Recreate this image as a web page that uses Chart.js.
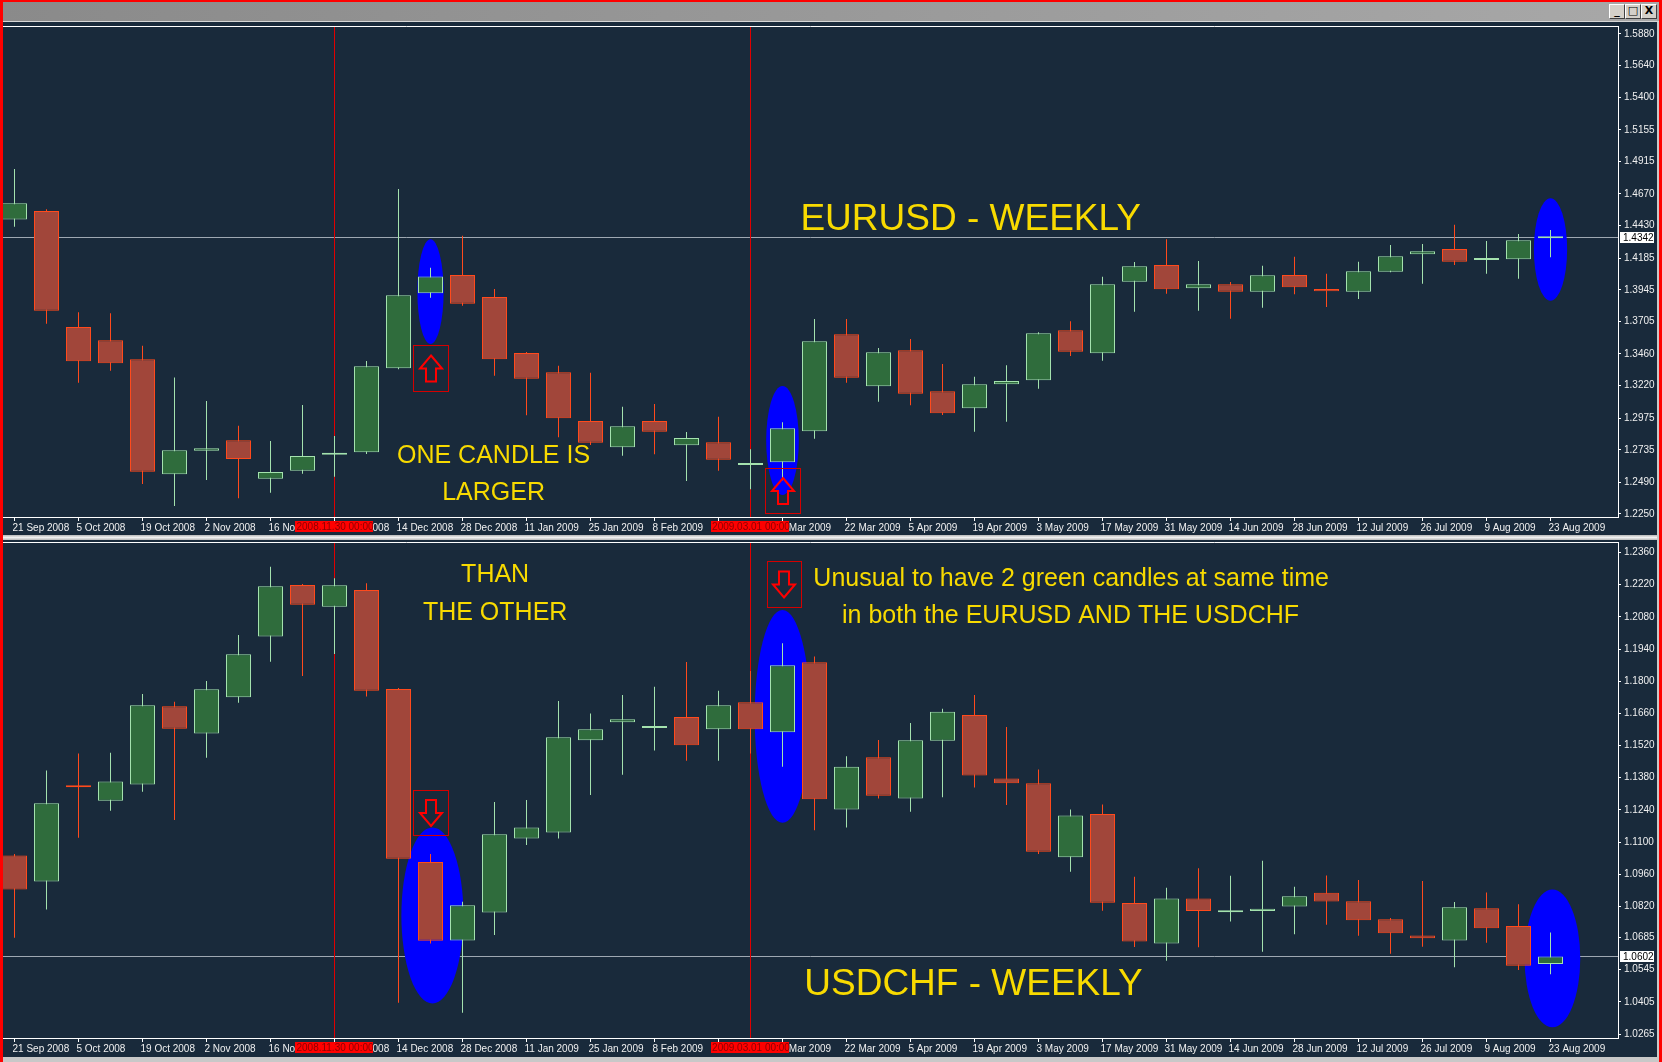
<!DOCTYPE html>
<html>
<head>
<meta charset="utf-8">
<title>EURUSD / USDCHF weekly</title>
<script src="https://cdn.jsdelivr.net/npm/chart.js@4.4.1/dist/chart.umd.min.js"></script>
<style>
  html, body { margin: 0; padding: 0; background: #192a3b; }
  #frame { position: relative; width: 1662px; height: 1062px; overflow: hidden; background: #192a3b; }
  .abs { position: absolute; }
  #titlebar { left: 0; top: 0; width: 1662px; height: 21px; background: linear-gradient(to right, #8a8a8a, #a8a8a8); }
  #titleline { left: 0; top: 21px; width: 1662px; height: 1px; background: #d6d6d6; }
  .wbtn { top: 4px; width: 14px; height: 13px; background: #d4d0c8; border: 1px solid #404040;
          border-top-color: #fff; border-left-color: #fff; font: bold 11px "DejaVu Sans", sans-serif;
          color: #000; text-align: center; line-height: 12px; }
  #sep { left: 0; top: 535px; width: 1662px; height: 5px; background: linear-gradient(#b8b8b8, #f0f0f0, #b8b8b8); }
  #bottomstrip { left: 0; top: 1057px; width: 1662px; height: 5px; background: #c8c8c8; }
  #rightstrip { left: 1657px; top: 22px; width: 2px; height: 1040px; background: #c8c8c8; }
  .red { background: #ff0000; }
  #topBox { left: 3px; top: 23px; width: 1654px; height: 512px; }
  #botBox { left: 3px; top: 539px; width: 1654px; height: 518px; }
</style>
</head>
<body>
<div id="frame">
  <div id="titlebar" class="abs"></div>
  <div id="titleline" class="abs"></div>
  <div class="abs wbtn" style="left:1609px">_</div>
  <div class="abs wbtn" style="left:1625px">&#9633;</div>
  <div class="abs wbtn" style="left:1641px">X</div>
  <div id="topBox" class="abs"><canvas id="topChart"></canvas></div>
  <div id="sep" class="abs"></div>
  <div id="botBox" class="abs"><canvas id="botChart"></canvas></div>
  <div id="bottomstrip" class="abs"></div>
  <div id="rightstrip" class="abs"></div>
  <div class="abs red" style="left:0;top:0;width:1662px;height:2px"></div>
  <div class="abs red" style="left:0;top:0;width:3px;height:1062px"></div>
  <div class="abs red" style="left:1659px;top:0;width:3px;height:1062px"></div>
</div>

<script>
/* Weekly candles, 21 Sep 2008 .. 23 Aug 2009 */
const weeks = ["21 Sep 2008","28 Sep 2008","5 Oct 2008","12 Oct 2008","19 Oct 2008","26 Oct 2008",
  "2 Nov 2008","9 Nov 2008","16 Nov 2008","23 Nov 2008","30 Nov 2008","7 Dec 2008","14 Dec 2008",
  "21 Dec 2008","28 Dec 2008","4 Jan 2009","11 Jan 2009","18 Jan 2009","25 Jan 2009","1 Feb 2009",
  "8 Feb 2009","15 Feb 2009","22 Feb 2009","1 Mar 2009","8 Mar 2009","15 Mar 2009","22 Mar 2009",
  "29 Mar 2009","5 Apr 2009","12 Apr 2009","19 Apr 2009","26 Apr 2009","3 May 2009","10 May 2009",
  "17 May 2009","24 May 2009","31 May 2009","7 Jun 2009","14 Jun 2009","21 Jun 2009","28 Jun 2009",
  "5 Jul 2009","12 Jul 2009","19 Jul 2009","26 Jul 2009","2 Aug 2009","9 Aug 2009","16 Aug 2009",
  "23 Aug 2009"];

const eurusdOpen = [1.4478,1.4541,1.3664,1.3564,1.3420,1.2550,1.2729,1.2807,1.2517,1.2578,1.2698,1.2717,1.3352,
  1.3919,1.4057,1.3891,1.3468,1.3322,1.2953,1.2754,1.2953,1.2770,1.2792,1.2620,1.2641,1.2875,1.3609,1.3216,
  1.3488,1.3178,1.3049,1.3232,1.3261,1.3639,1.3465,1.4007,1.4133,1.3957,1.3987,1.3931,1.4057,1.3952,1.3931,
  1.4082,1.4214,1.4254,1.4170,1.4176,1.4335];
const eurusdHigh = [1.4859,1.4554,1.3775,1.3768,1.3523,1.3283,1.3105,1.2918,1.2802,1.3074,1.2840,1.3407,1.4708,
  1.4113,1.4355,1.3952,1.3475,1.3372,1.3319,1.3062,1.3082,1.2870,1.2986,1.2739,1.2943,1.3725,1.3725,1.3505,
  1.3573,1.3384,1.3288,1.3375,1.3625,1.3707,1.4045,1.4156,1.4327,1.4163,1.4004,1.4128,1.4196,1.4067,1.4158,
  1.4284,1.4292,1.4438,1.4315,1.4367,1.4398];
const eurusdLow = [1.4423,1.3689,1.3243,1.3334,1.2477,1.2310,1.2507,1.2369,1.2411,1.2555,1.2532,1.2704,1.3345,
  1.3886,1.3825,1.3296,1.2996,1.2830,1.2772,1.2691,1.2701,1.2500,1.2578,1.2437,1.2505,1.2820,1.3243,1.3099,
  1.3072,1.2999,1.2872,1.2948,1.3198,1.3445,1.3409,1.3780,1.3916,1.3787,1.3727,1.3810,1.3911,1.3815,1.3876,
  1.4078,1.3992,1.4133,1.4067,1.4030,1.4191];
const eurusdClose = [1.4600,1.3788,1.3405,1.3390,1.2570,1.2732,1.2747,1.2666,1.2568,1.2689,1.2703,1.3367,1.3904,
  1.4047,1.3840,1.3420,1.3273,1.2974,1.2789,1.2913,1.2872,1.2825,1.2661,1.2626,1.2898,1.3556,1.3281,1.3473,
  1.3160,1.3011,1.3231,1.3255,1.3617,1.3477,1.3987,1.4123,1.3949,1.3987,1.3931,1.4055,1.3964,1.3934,1.4085,
  1.4199,1.4237,1.4158,1.4178,1.4320,1.4342];

const usdchfOpen = [1.1042,1.0929,1.1347,1.1280,1.1351,1.1691,1.1573,1.1730,1.1995,1.2219,1.2124,1.2197,1.1766,
  1.1013,1.0672,1.0794,1.1116,1.1142,1.1543,1.1621,1.1596,1.1644,1.1591,1.1708,1.1578,1.1882,1.1242,1.1469,
  1.1290,1.1541,1.1653,1.1377,1.1356,1.1034,1.1222,1.0835,1.0659,1.0855,1.0795,1.0800,1.0820,1.0880,1.0843,
  1.0764,1.0694,1.0672,1.0812,1.0735,1.0570];
const usdchfHigh = [1.1048,1.1411,1.1485,1.1489,1.1744,1.1711,1.1801,1.2001,1.2298,1.2223,1.2248,1.2226,1.1770,
  1.1048,1.0840,1.1274,1.1283,1.1714,1.1659,1.1740,1.1776,1.1884,1.1759,1.1844,1.1965,1.1908,1.1474,1.1544,
  1.1618,1.1680,1.1740,1.1601,1.1416,1.1242,1.1264,1.0949,1.0901,1.0986,1.0954,1.1019,1.0906,1.0955,1.0935,
  1.0770,1.0931,1.0839,1.0881,1.0830,1.0707];
const usdchfLow = [1.0684,1.0807,1.1119,1.1236,1.1319,1.1196,1.1467,1.1706,1.1885,1.1823,1.1918,1.1733,1.0401,
  1.0659,1.0357,1.0696,1.1087,1.1116,1.1305,1.1393,1.1498,1.1454,1.1454,1.1486,1.1428,1.1152,1.1164,1.1290,
  1.1232,1.1295,1.1338,1.1261,1.1048,1.0971,1.0801,1.0643,1.0584,1.0642,1.0754,1.0623,1.0699,1.0740,1.0693,
  1.0614,1.0645,1.0555,1.0662,1.0543,1.0525];
const usdchfClose = [1.0894,1.1269,1.1339,1.1364,1.1695,1.1593,1.1765,1.1917,1.2213,1.2133,1.2217,1.1759,1.1028,
  1.0671,1.0825,1.1134,1.1164,1.1556,1.1591,1.1634,1.1600,1.1521,1.1695,1.1591,1.1869,1.1286,1.1428,1.1302,
  1.1543,1.1667,1.1390,1.1356,1.1058,1.1216,1.0836,1.0668,1.0855,1.0800,1.0800,1.0810,1.0864,1.0842,1.0760,
  1.0703,1.0682,1.0816,1.0725,1.0562,1.0602];

/* price scale labels as MT4 prints them */
const eurusdTicks = ["1.5880","1.5640","1.5400","1.5155","1.4915","1.4670","1.4430","1.4185","1.3945",
  "1.3705","1.3460","1.3220","1.2975","1.2735","1.2490","1.2250"];
const usdchfTicks = ["1.2360","1.2220","1.2080","1.1940","1.1800","1.1660","1.1520","1.1380","1.1240",
  "1.1100","1.0960","1.0820","1.0685","1.0545","1.0405","1.0265"];

const eurusdLast = 1.4342;
const usdchfLast = 1.0602;

/* colours */
const BULL_FILL = '#2f6c3c';
const BULL_LINE = '#a4e2ae';
const BEAR_FILL = '#a1463a';
const BEAR_LINE = '#ff4a1c';
const GOLD = '#f8da00';
const AXIS_FONT = { family: '"Liberation Sans", Arial, sans-serif', size: 10 };
const TEXT_FONT = '"Liberation Sans", Arial, sans-serif';


/* build wick + body datasets for one instrument */
function candleSets(open, high, low, close) {
  const up = open.map((o, i) => close[i] >= o);

  const wicks = {
    data: open.map((o, i) => ({ x: i, y: [low[i], high[i]] })),
    backgroundColor: up.map(u => u ? BULL_LINE : BEAR_LINE),
    borderWidth: 0,
    barThickness: 1,
    inflateAmount: 0,
    grouped: false,
    order: 2
  };

  const bodies = {
    data: open.map((o, i) => ({ x: i, y: [o, close[i]] })),
    backgroundColor: up.map(u => u ? BULL_FILL : BEAR_FILL),
    borderColor: up.map(u => u ? BULL_LINE : BEAR_LINE),
    borderWidth: 1,
    borderSkipped: false,
    barThickness: 25,
    minBarLength: 2,
    inflateAmount: 0,
    grouped: false,
    order: 1
  };

  return [wicks, bodies];
}


/* hollow arrow inside a red frame */
function drawArrowBox(ctx, x, y, b) {
  const cx = x.getPixelForValue(b.week);
  const half = b.w / 2 * (x.getPixelForValue(1) - x.getPixelForValue(0));
  const left = Math.round(cx - half) + 0.5;
  const right = Math.round(cx + half) + 0.5;
  const top = Math.round(y.getPixelForValue(b.top)) + 0.5;
  const bottom = Math.round(y.getPixelForValue(b.bottom)) + 0.5;

  ctx.strokeStyle = '#d40000';
  ctx.lineWidth = 1;
  ctx.strokeRect(left, top, right - left, bottom - top);

  const ax = Math.round(cx);
  const mid = (top + bottom) / 2;
  const t = mid - 13, h = 13, e = mid + 13;
  ctx.strokeStyle = '#ff0000';
  ctx.lineWidth = 2;
  ctx.beginPath();
  if (b.dir === 'up') {
    ctx.moveTo(ax, t);
    ctx.lineTo(ax + 11, t + h);
    ctx.lineTo(ax + 5, t + h);
    ctx.lineTo(ax + 5, e);
    ctx.lineTo(ax - 5, e);
    ctx.lineTo(ax - 5, t + h);
    ctx.lineTo(ax - 11, t + h);
  } else {
    ctx.moveTo(ax, e);
    ctx.lineTo(ax + 11, e - h);
    ctx.lineTo(ax + 5, e - h);
    ctx.lineTo(ax + 5, t);
    ctx.lineTo(ax - 5, t);
    ctx.lineTo(ax - 5, e - h);
    ctx.lineTo(ax - 11, e - h);
  }
  ctx.closePath();
  ctx.stroke();
}


/* everything MT4 draws on top of the candles: objects, lines, tags */
const mt4Marks = {
  id: 'mt4Marks',

  beforeDatasetsDraw(chart, args, opts) {
    const { ctx, chartArea: a, scales: { x, y } } = chart;
    ctx.save();

    // white frame line along the top of the plot
    ctx.strokeStyle = '#ffffff';
    ctx.lineWidth = 1;
    ctx.beginPath();
    ctx.moveTo(a.left, a.top + 0.5);
    ctx.lineTo(a.right, a.top + 0.5);
    ctx.stroke();

    ctx.beginPath();
    ctx.rect(a.left, a.top + 1, a.right - a.left, a.bottom - a.top - 1);
    ctx.clip();

    // last price line
    const py = Math.floor(y.getPixelForValue(opts.last)) + 0.5;
    ctx.strokeStyle = '#9ea8b2';
    ctx.beginPath();
    ctx.moveTo(a.left, py);
    ctx.lineTo(a.right, py);
    ctx.stroke();

    // red vertical lines
    ctx.strokeStyle = '#e00000';
    opts.vlines.forEach(v => {
      const px = Math.floor(x.getPixelForValue(v.week)) + 0.5;
      ctx.beginPath();
      ctx.moveTo(px, a.top);
      ctx.lineTo(px, a.bottom);
      ctx.stroke();
    });

    // blue ellipses
    ctx.fillStyle = '#0000ff';
    opts.ellipses.forEach(e => {
      const cx = x.getPixelForValue(e.week);
      const cy = y.getPixelForValue(e.price);
      const rx = e.hw * (x.getPixelForValue(1) - x.getPixelForValue(0));
      const ry = Math.abs(y.getPixelForValue(e.price + e.hh) - cy);
      ctx.beginPath();
      ctx.ellipse(cx, cy, rx, ry, 0, 0, Math.PI * 2);
      ctx.fill();
    });

    ctx.restore();
  },

  afterDatasetsDraw(chart, args, opts) {
    const { ctx, scales: { x, y } } = chart;
    ctx.save();

    opts.boxes.forEach(b => drawArrowBox(ctx, x, y, b));

    ctx.fillStyle = GOLD;
    ctx.textBaseline = 'alphabetic';
    opts.texts.forEach(t => {
      ctx.font = t.size + 'px ' + TEXT_FONT;
      ctx.textAlign = t.align;
      ctx.fillText(t.text, x.getPixelForValue(t.week), y.getPixelForValue(t.price));
    });

    ctx.restore();
  },

  afterDraw(chart, args, opts) {
    const { ctx, chartArea: a, scales: { x, y } } = chart;
    ctx.save();
    ctx.font = '10px ' + TEXT_FONT;
    ctx.textBaseline = 'middle';

    // last price tag on the price scale
    const py = Math.floor(y.getPixelForValue(opts.last));
    ctx.fillStyle = '#ffffff';
    ctx.fillRect(a.right + 2, py - 5, 34, 11);
    ctx.fillStyle = '#000000';
    ctx.textAlign = 'left';
    ctx.fillText(opts.last.toFixed(4), a.right + 5, py + 1);

    // red date tags of the vertical lines
    ctx.textAlign = 'center';
    opts.vlines.forEach(v => {
      const px = Math.floor(x.getPixelForValue(v.week));
      ctx.fillStyle = '#ff0000';
      ctx.fillRect(px - 39, a.bottom + 4, 78, 11);
      ctx.fillStyle = '#8c0000';
      ctx.fillText(v.tag, px + 1, a.bottom + 10);
    });

    ctx.restore();
  }
};


/* shared chart options for a price panel */
function panelOptions(yMin, yMax, yTicks, xAxisHeight, marks) {
  return {
    responsive: true,
    maintainAspectRatio: false,
    devicePixelRatio: 1,
    animation: false,
    events: [],
    layout: { padding: { top: 3, left: 0, right: 0, bottom: 0 } },
    plugins: {
      legend: { display: false },
      tooltip: { enabled: false },
      mt4Marks: marks
    },
    scales: {
      x: {
        type: 'linear',
        min: -0.359375,
        max: 50.109375,
        offset: false,
        afterBuildTicks: (s) => {
          s.ticks = weeks.map((w, i) => ({ value: i })).filter(t => t.value % 2 === 0);
        },
        afterFit: (s) => { s.height = xAxisHeight; s.paddingLeft = 0; s.paddingRight = 0; },
        grid: { drawOnChartArea: false, offset: false, color: '#ffffff', tickLength: 4 },
        border: { display: true, color: '#ffffff', width: 1 },
        ticks: {
          autoSkip: false,
          maxRotation: 0,
          align: 'start',
          labelOffset: -2,
          padding: 1,
          color: '#f0f0f0',
          font: AXIS_FONT,
          callback: (v) => weeks[v]
        }
      },
      y: {
        type: 'linear',
        position: 'right',
        min: yMin,
        max: yMax,
        afterBuildTicks: (s) => {
          s.ticks = yTicks.map(t => ({ value: Number(t) }));
        },
        afterFit: (s) => { s.width = 39; s.paddingTop = 0; s.paddingBottom = 0; },
        grid: { drawOnChartArea: false, color: '#ffffff', tickLength: 3 },
        border: { display: true, color: '#ffffff', width: 1 },
        ticks: {
          padding: 3,
          color: '#f0f0f0',
          font: AXIS_FONT,
          callback: (v) => v.toFixed(4)
        }
      }
    }
  };
}


window.onload = function() {
  const vlines = [
    { week: 10, tag: '2008.11.30 00:00' },
    { week: 23, tag: '2009.03.01 00:00' }
  ];

  new Chart(document.getElementById('topChart'), {
    type: 'bar',
    data: { datasets: candleSets(eurusdOpen, eurusdHigh, eurusdLow, eurusdClose) },
    plugins: [mt4Marks],
    options: panelOptions(1.22273, 1.59405, eurusdTicks, 18, {
      last: eurusdLast,
      vlines: vlines,
      ellipses: [
        { week: 13.0, price: 1.3931, hw: 0.41, hh: 0.0396 },
        { week: 24.0, price: 1.2806, hw: 0.51, hh: 0.0412 },
        { week: 48.0, price: 1.4250, hw: 0.52, hh: 0.0387 }
      ],
      boxes: [
        { week: 13.0, w: 1.07, top: 1.3528, bottom: 1.3182, dir: 'up' },
        { week: 24.0, w: 1.07, top: 1.2596, bottom: 1.2255, dir: 'up' }
      ],
      texts: [
        { text: 'EURUSD - WEEKLY', week: 24.56, price: 1.4398, align: 'left', size: 37 },
        { text: 'ONE CANDLE IS', week: 14.97, price: 1.2633, align: 'center', size: 25 },
        { text: 'LARGER', week: 14.97, price: 1.2356, align: 'center', size: 25 }
      ]
    })
  });

  new Chart(document.getElementById('botChart'), {
    type: 'bar',
    data: { datasets: candleSets(usdchfOpen, usdchfHigh, usdchfLow, usdchfClose) },
    plugins: [mt4Marks],
    options: panelOptions(1.02476, 1.24057, usdchfTicks, 19, {
      last: usdchfLast,
      vlines: vlines,
      ellipses: [
        { week: 13.06, price: 1.0781, hw: 0.97, hh: 0.0383 },
        { week: 24.0, price: 1.1647, hw: 0.87, hh: 0.0463 },
        { week: 48.06, price: 1.0594, hw: 0.87, hh: 0.0300 }
      ],
      boxes: [
        { week: 13.0, w: 1.07, top: 1.1327, bottom: 1.1129, dir: 'down' },
        { week: 24.05, w: 1.07, top: 1.2323, bottom: 1.2124, dir: 'down' }
      ],
      texts: [
        { text: 'THAN', week: 15.02, price: 1.2233, align: 'center', size: 25 },
        { text: 'THE OTHER', week: 15.02, price: 1.2066, align: 'center', size: 25 },
        { text: 'Unusual to have 2 green candles at same time', week: 33.02, price: 1.2216, align: 'center', size: 25 },
        { text: 'in both the EURUSD AND THE USDCHF', week: 33.0, price: 1.2052, align: 'center', size: 25 },
        { text: 'USDCHF - WEEKLY', week: 24.68, price: 1.0434, align: 'left', size: 37 }
      ]
    })
  });
};
</script>
</body>
</html>
